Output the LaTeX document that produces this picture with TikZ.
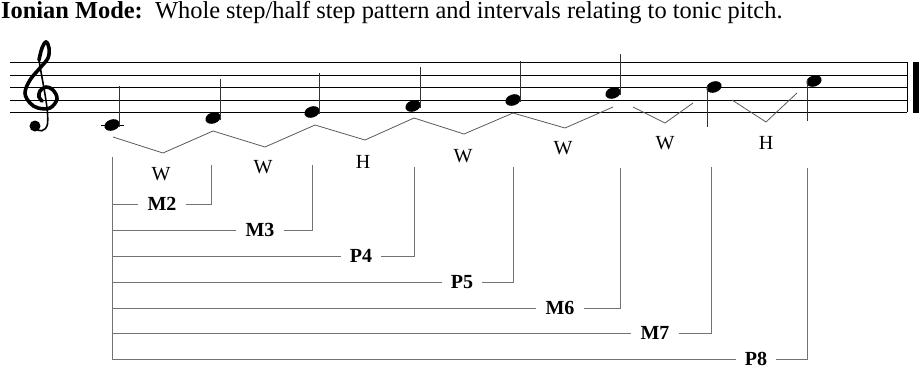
\documentclass[tikz,border=0pt]{standalone}
\usepackage{fontspec}
\setmainfont{Liberation Serif}
\usetikzlibrary{positioning}

\tikzset{
  staffline/.style={black, line width=1pt},
  stepline/.style={black!65, line width=0.8pt},
  bracketline/.style={black!55, line width=0.9pt},
  steplabel/.style={font=\fontsize{20}{20}\selectfont, inner sep=0pt},
  intlabel/.style={font=\bfseries\fontsize{20}{20}\selectfont, inner xsep=9pt, inner ysep=0pt},
  stem/.style={black!80, line width=0.9pt}
}

\begin{document}
\begin{tikzpicture}[x=1pt, y=-1pt]
    \useasboundingbox (0,0) rectangle (920,370);

    % Title
    \node[anchor=base west, inner sep=0pt, font=\fontsize{24.4}{24.4}\selectfont] (title) at (1,18)
        {\textbf{Ionian Mode:}\ \ Whole step/half step pattern and intervals relating to tonic pitch.};

    % Staff and final barline
    \foreach \y in {62,75,87,100,112}
        \draw[staffline] (10,\y) -- (907,\y);
    \draw[line width=1pt] (907,62) -- (907,112);
    \fill (913,61.5) rectangle (919,112.5);

    % Treble clef
    \draw[line width=3.6pt, line cap=round] plot[smooth, tension=0.6] coordinates
        {(39,60) (42,48) (46,42) (49,48) (48,58) (40,68) (30,80) (25,93) (30,103)
         (38,108) (50,108) (57,99) (53,90) (46,87) (40,91) (39,97) (42,101)};
    \draw[line width=1.6pt] (39,60) .. controls (43,85) and (49,110) .. (47.5,124)
        .. controls (46,132) and (38,133) .. (35,127);
    \fill (35,126) circle (5.5);

    % Notes of the scale
    \coordinate (c4) at (112,125);
    \coordinate (d4) at (213,118);
    \coordinate (e4) at (312,112);
    \coordinate (f4) at (413,106);
    \coordinate (g4) at (513,100);
    \coordinate (a4) at (613,93);
    \coordinate (b4) at (714,87);
    \coordinate (c5) at (814,81);
    \draw[line width=0.8pt] ([xshift=-11pt]c4) -- ([xshift=12pt]c4);
    \foreach \n in {c4,d4,e4,f4,g4,a4,b4,c5}
        \fill[rotate around={20:(\n)}] (\n) ellipse (7.8 and 5.5);
    \foreach \n in {c4,d4,e4,f4,g4,a4}
        \draw[stem] ([xshift=7.5pt,yshift=-2pt]\n) -- ++(0,-41);
    \foreach \n in {b4,c5}
        \draw[stem] ([xshift=-7pt,yshift=2pt]\n) -- ++(0,42);

    % Whole step / half step zigzag
    \draw[stepline] (113,137) -- (163,153) -- (213,131) -- (265,147) -- (315,125)
        -- (365,140) -- (414,118) -- (464,134) -- (513,113) -- (565,128) -- (613,107);
    \draw[stepline] (633,107) -- (665,123) -- (693,103);
    \draw[stepline] (732,100) -- (766,122) -- (797,93);

    \node[steplabel] (s1) at (161,174) {W};
    \node[steplabel] (s2) at (263,167) {W};
    \node[steplabel] (s3) at (363,162) {H};
    \node[steplabel] (s4) at (463,156) {W};
    \node[steplabel] (s5) at (563,148) {W};
    \node[steplabel] (s6) at (665,143) {W};
    \node[steplabel] (s7) at (766,143) {H};

    % Intervals above the tonic
    \coordinate (tonic) at (112,157);
    \coordinate (d4end) at (211,165);
    \coordinate (e4end) at (312,165);
    \coordinate (f4end) at (414,167);
    \coordinate (g4end) at (513,167);
    \coordinate (a4end) at (620,168);
    \coordinate (b4end) at (711,167);
    \coordinate (c5end) at (807,168);

    \node[intlabel] (m2) at (162,204) {M2};
    \node[intlabel] (m3) at (260,230) {M3};
    \node[intlabel] (p4) at (361,256) {P4};
    \node[intlabel] (p5) at (462,282) {P5};
    \node[intlabel] (m6) at (560,308) {M6};
    \node[intlabel] (m7) at (655,333) {M7};
    \node[intlabel] (p8) at (756,359) {P8};

    \draw[bracketline] (tonic) -- (p8.west -| tonic);
    \draw[bracketline] (m2.west) -- (m2.west -| tonic);
    \draw[bracketline] (m2.east) -- (m2.east -| d4end) -- (d4end);
    \draw[bracketline] (m3.west) -- (m3.west -| tonic);
    \draw[bracketline] (m3.east) -- (m3.east -| e4end) -- (e4end);
    \draw[bracketline] (p4.west) -- (p4.west -| tonic);
    \draw[bracketline] (p4.east) -- (p4.east -| f4end) -- (f4end);
    \draw[bracketline] (p5.west) -- (p5.west -| tonic);
    \draw[bracketline] (p5.east) -- (p5.east -| g4end) -- (g4end);
    \draw[bracketline] (m6.west) -- (m6.west -| tonic);
    \draw[bracketline] (m6.east) -- (m6.east -| a4end) -- (a4end);
    \draw[bracketline] (m7.west) -- (m7.west -| tonic);
    \draw[bracketline] (m7.east) -- (m7.east -| b4end) -- (b4end);
    \draw[bracketline] (p8.west) -- (p8.west -| tonic);
    \draw[bracketline] (p8.east) -- (p8.east -| c5end) -- (c5end);
\end{tikzpicture}
\end{document}
